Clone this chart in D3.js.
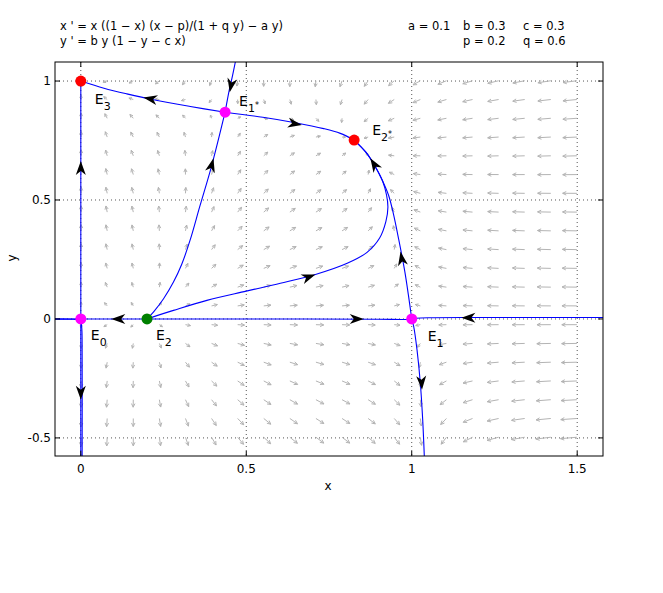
<!DOCTYPE html>
<html><head><meta charset="utf-8">
<script src="https://d3js.org/d3.v7.min.js"></script>
<style>
body{margin:0;background:#fff}
svg text{font-family:"DejaVu Sans",sans-serif;fill:#000}
</style></head><body>
<svg id="chart" width="663" height="593"></svg>
<script>
// ---------------- data ----------------
const paramNames = ["a", "b", "c", "p", "q"];
const paramValues = [0.1, 0.3, 0.3, 0.2, 0.6];
const equationLines = ["x ' = x ((1 − x) (x − p)/(1 + q y) − a y)", "y ' = b y (1 − y − c x)"];
const xLimits = [-0.078, 1.578];
const yLimits = [-0.576, 1.08];
const xTicks = [0, 0.5, 1, 1.5];
const yTicks = [-0.5, 0, 0.5, 1];
const xTickLabels = ["0", "0.5", "1", "1.5"];
const yTickLabels = ["-0.5", "0", "0.5", "1"];

const eqSubs = ["0", "1", "2", "3", "1*", "2*"];
const eqX = [0, 1, 0.2, 0, 0.436, 0.826];
const eqY = [0, 0, 0, 1, 0.869, 0.752];
const eqKind = ["saddle", "saddle", "source", "sink", "saddle", "sink"];

// trajectories
const trajYAxis = [[0, -0.576], [0, 1]];
const trajLeftAxis = [[-0.078, 0], [0, 0]];
const trajLeftDown = [[-0.078, -0.0006], [-0.03, -0.001], [-0.01, -0.003], [0, -0.012], [0.003, -0.04], [0.004, -0.15], [0.004, -0.576]];
const trajE2toE0 = [[0.2, 0], [0, 0]];
const trajE2toE1 = [[0.2, 0], [0.6, 0], [0.9, -0.001], [0.98, -0.002], [1, 0]];
const trajRightIn = [[1.578, 0.006], [1.2, 0.006], [1.05, 0.005], [1.0, 0.002]];
const trajE1Down = [[1, 0], [1.006, -0.032], [1.016, -0.13], [1.026, -0.27], [1.033, -0.42], [1.038, -0.576]];
const trajE1Up = [[1, 0], [0.99, 0.1], [0.979, 0.2], [0.961, 0.332], [0.945, 0.44], [0.93, 0.52], [0.912, 0.58], [0.89, 0.64], [0.862, 0.70], [0.826, 0.752]];
const trajE2Right = [[0.2, 0], [0.23, 0.014], [0.28, 0.036], [0.381, 0.078], [0.5, 0.117], [0.603, 0.15], [0.709, 0.187], [0.805, 0.234], [0.865, 0.28], [0.903, 0.34], [0.922, 0.41], [0.928, 0.47], [0.924, 0.52], [0.912, 0.58], [0.89, 0.64], [0.862, 0.70], [0.826, 0.752]];
const trajE2toE1s = [[0.2, 0], [0.22, 0.03], [0.25, 0.085], [0.28, 0.155], [0.305, 0.23], [0.33, 0.33], [0.36, 0.475], [0.396, 0.647], [0.436, 0.869]];
const trajTopToE1s = [[0.467, 1.08], [0.458, 1.02], [0.449, 0.965], [0.436, 0.869]];
const trajE1sToE3 = [[0.436, 0.869], [0.331, 0.893], [0.22, 0.921], [0.139, 0.946], [0.07, 0.97], [0, 1]];
const trajE1sToE2s = [[0.436, 0.869], [0.55, 0.848], [0.648, 0.825], [0.734, 0.80], [0.784, 0.78], [0.826, 0.752]];
const trajectories = [trajYAxis, trajLeftAxis, trajLeftDown, trajE2toE0, trajE2toE1, trajRightIn, trajE1Down, trajE1Up, trajE2Right, trajE2toE1s, trajTopToE1s, trajE1sToE3, trajE1sToE2s];

// arrowheads on trajectories: tip x, tip y, direction dx, dy (data units)
const arrowTipX = [0.092, 0.855, 1.150, 0, 0, 1.031, 0.966, 0.875, 0.709, 0.401, 0.450, 0.189, 0.668];
const arrowTipY = [0, 0, 0.005, 0.664, -0.34, -0.298, 0.283, 0.675, 0.187, 0.675, 0.953, 0.931, 0.815];
const arrowDirX = [-1, 1, -1, 0, 0, 0.04, -0.13, -0.45, 2, 0.19, -0.14, -1, 1];
const arrowDirY = [0, 0, 0, 1, -1, -1, 1, 1, 1, 1, -1, 0.27, -0.25];

// ---------------- layout ----------------
const svg = d3.select("#chart");
const L = 55, R = 603, T = 62, B = 456;
const x = d3.scaleLinear().domain(xLimits).range([L, R]);
const y = d3.scaleLinear().domain(yLimits).range([B, T]);
const kindColor = {saddle: "#ff00ff", source: "#008000", sink: "#ff0000"};
const labelOff = [[10, 21.5], [16, 22.5], [9, 21.5], [14, 23], [14, -6], [18, -5]];

svg.append("defs").append("clipPath").attr("id", "clip")
  .append("rect").attr("x", L).attr("y", T).attr("width", R - L).attr("height", B - T);

// header text
const hdr = svg.append("g").style("font-size", "11.5px");
equationLines.forEach((t, i) => hdr.append("text").attr("x", 60).attr("y", 29.5 + i * 15).text(t));
const pPos = [[408, 29.5], [463, 29.5], [523, 29.5], [463, 44.5], [523, 44.5]];
paramNames.forEach((n, i) => hdr.append("text").attr("x", pPos[i][0]).attr("y", pPos[i][1]).text(n + " = " + paramValues[i]));

// grid
const grid = svg.append("g").attr("stroke", "#555").attr("stroke-width", 1).attr("stroke-dasharray", "1,3");
xTicks.forEach(v => grid.append("line").attr("x1", x(v)).attr("x2", x(v)).attr("y1", T).attr("y2", B));
yTicks.forEach(v => grid.append("line").attr("y1", y(v)).attr("y2", y(v)).attr("x1", L).attr("x2", R));

// vector field
const [pa, pb, pc, pp, pq] = paramValues;
const field = (X, Y) => [X * ((1 - X) * (X - pp) / (1 + pq * Y) - pa * Y), pb * Y * (1 - Y - pc * X)];
const N = 21;
const sx = (R - L) / (xLimits[1] - xLimits[0]), sy = (B - T) / (yLimits[1] - yLimits[0]);
const vf = svg.append("g").attr("clip-path", "url(#clip)").attr("stroke", "#b4b4b4").attr("stroke-width", 1).attr("fill", "none");
for (let i = 1; i < N; i++) {
  for (let j = 1; j < N; j++) {
    const gx = xLimits[0] + i * (xLimits[1] - xLimits[0]) / N;
    const gy = yLimits[0] + j * (yLimits[1] - yLimits[0]) / N;
    const [u, v] = field(gx, gy);
    const pu = u * sx, pv = -v * sy;
    const m = Math.hypot(pu, pv);
    if (m === 0) continue;
    const len = 14 * Math.pow(m / 254, 0.3);
    const ux = pu / m, uy = pv / m;
    const x0 = x(gx), y0 = y(gy), x1 = x0 + ux * len, y1 = y0 + uy * len;
    const h = Math.min(4, 0.45 * len + 1), ang = 0.45;
    const a1 = Math.atan2(uy, ux) + Math.PI;
    const hx1 = x1 + h * Math.cos(a1 + ang), hy1 = y1 + h * Math.sin(a1 + ang);
    const hx2 = x1 + h * Math.cos(a1 - ang), hy2 = y1 + h * Math.sin(a1 - ang);
    vf.append("path").attr("d", `M${x0},${y0}L${x1},${y1}M${hx1},${hy1}L${x1},${y1}L${hx2},${hy2}`);
  }
}

// trajectories
const line = d3.line().x(d => x(d[0])).y(d => y(d[1])).curve(d3.curveCatmullRom.alpha(0.5));
const tg = svg.append("g").attr("clip-path", "url(#clip)");
trajectories.forEach(tr => tg.append("path").attr("d", line(tr)).attr("fill", "none").attr("stroke", "#0000ff").attr("stroke-width", 1.1));

// trajectory arrowheads
arrowTipX.forEach((ax, i) => {
  const ang = Math.atan2(-arrowDirY[i] * sy, arrowDirX[i] * sx) * 180 / Math.PI;
  tg.append("path").attr("d", "M0,0L-14,-5L-10,0L-14,5Z").attr("fill", "#000")
    .attr("transform", `translate(${x(ax)},${y(arrowTipY[i])}) rotate(${ang})`);
});

// equilibria
eqX.forEach((ex, i) => {
  svg.append("circle").attr("cx", x(ex)).attr("cy", y(eqY[i])).attr("r", 5.5).attr("fill", kindColor[eqKind[i]]);
  const t = svg.append("text").attr("x", x(ex) + labelOff[i][0]).attr("y", y(eqY[i]) + labelOff[i][1]).style("font-size", "14px");
  t.append("tspan").text("E");
  const sub = eqSubs[i];
  t.append("tspan").attr("dy", 6).style("font-size", "11px").text(sub[0]);
  if (sub.length > 1) t.append("tspan").attr("dy", -4).style("font-size", "8px").text(sub.slice(1));
});

// axes box and ticks
svg.append("rect").attr("x", L).attr("y", T).attr("width", R - L).attr("height", B - T).attr("fill", "none").attr("stroke", "#000").attr("stroke-width", 1);
const tk = svg.append("g").attr("stroke", "#000").attr("stroke-width", 1);
xTicks.forEach(v => {
  tk.append("line").attr("x1", x(v)).attr("x2", x(v)).attr("y1", B).attr("y2", B - 5);
  tk.append("line").attr("x1", x(v)).attr("x2", x(v)).attr("y1", T).attr("y2", T + 5);
});
yTicks.forEach(v => {
  tk.append("line").attr("y1", y(v)).attr("y2", y(v)).attr("x1", L).attr("x2", L + 5);
  tk.append("line").attr("y1", y(v)).attr("y2", y(v)).attr("x1", R).attr("x2", R - 5);
});
const lab = svg.append("g").style("font-size", "12px");
xTicks.forEach((v, i) => lab.append("text").attr("x", x(v)).attr("y", 473).attr("text-anchor", "middle").text(xTickLabels[i]));
yTicks.forEach((v, i) => lab.append("text").attr("x", 51).attr("y", y(v) + 4.3).attr("text-anchor", "end").text(yTickLabels[i]));
lab.append("text").attr("x", 328).attr("y", 490).attr("text-anchor", "middle").text("x");
lab.append("text").attr("transform", "translate(16,258) rotate(-90)").attr("text-anchor", "middle").text("y");
</script>
</body></html>
